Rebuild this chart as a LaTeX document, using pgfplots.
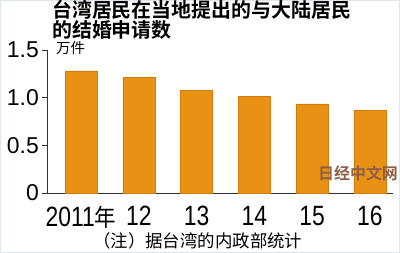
\documentclass[border=0pt]{standalone}
\usepackage{fontspec}
\usepackage{pgfplots}
\pgfplotsset{compat=1.18}
\setmainfont{Noto Sans CJK SC}
\newfontfamily\cjk[BoldFont={Noto Sans CJK SC Bold}]{Noto Sans CJK SC}
\newfontfamily\numfont{Liberation Sans}
\newfontfamily\numfontn[FakeStretch=0.82]{Liberation Sans}
\newfontfamily\cjkn[FakeStretch=0.9]{Noto Sans CJK SC}
\definecolor{barfill}{RGB}{233,145,20}
\definecolor{baredge}{RGB}{212,122,8}
\definecolor{axcol}{RGB}{50,50,50}
\definecolor{framecol}{RGB}{222,229,237}
\definecolor{wmbrown}{RGB}{140,95,70}
\begin{document}
\begin{tikzpicture}[x=1bp,y=1bp]
\useasboundingbox (0,0) rectangle (400,253);
\fill[white] (0,0) rectangle (400,253);
\draw[framecol, line width=1.5bp] (0.75,0.75) rectangle (399.25,252.25);
\begin{axis}[
  at={(47bp,60bp)}, anchor=south west,
  scale only axis, width=346bp, height=143bp,
  xmin=-0.589, xmax=5.40, ymin=0, ymax=1.5,
  axis x line*=bottom, axis y line*=left,
  axis line style={-, draw=axcol, line width=0.9bp},
  ybar, bar width=32bp,
  xtick={0,1,2,3,4,5}, xticklabels={2011{\cjkn\fontsize{24}{24}\selectfont 年},12,13,14,15,16},
  xtick style={draw=none},
  ytick={0,0.5,1,1.5}, yticklabels={0,0.5,1.0,1.5},
  ytick style={draw=axcol, line width=0.9bp},
  tick align=outside, major tick length=5bp,
  yticklabel style={font=\numfont\fontsize{23}{23}\selectfont, inner sep=0pt, xshift=-3bp},
  xticklabel style={font=\numfontn\fontsize{28}{28}\selectfont, inner sep=0pt, yshift=-8bp},
  clip=false,
]
\addplot[fill=barfill, draw=baredge, line width=0.6bp] coordinates {
  (0,1.28) (1,1.21) (2,1.08) (3,1.01) (4,0.935) (5,0.865)
};
\end{axis}
\node[anchor=base west, inner sep=0pt, font=\cjk\bfseries\fontsize{20}{20}\selectfont] at (52,235.5) {台湾居民在当地提出的与大陆居民};
\node[anchor=base west, inner sep=0pt, font=\cjk\bfseries\fontsize{20}{20}\selectfont] at (52,215.5) {的结婚申请数};
\node[anchor=base west, inner sep=0pt, font=\cjk\fontsize{14.5}{14.5}\selectfont] at (56,199.5) {万件};
\node[anchor=base west, inner sep=0pt, font=\cjk\fontsize{17.5}{17.5}\selectfont] at (93,6) {（注）据台湾的内政部统计};
\node[anchor=base west, inner sep=0pt, font=\cjk\bfseries\fontsize{16}{16}\selectfont] at (318,74) {\color{wmbrown}日经中文网};
\end{tikzpicture}
\end{document}
